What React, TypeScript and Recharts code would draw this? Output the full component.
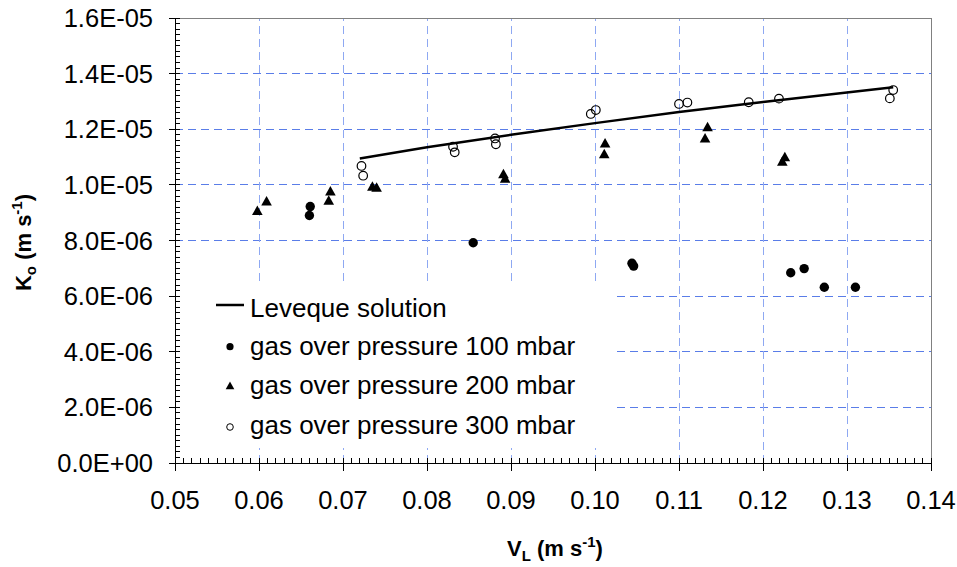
import React from "react"
import {
  ScatterChart,
  Scatter,
  XAxis,
  YAxis,
  Legend,
  ReferenceLine,
  Label,
} from "recharts"

const FONT = "Arial, 'Liberation Sans', sans-serif"

// axis ticks
const xMajorTicks = [0.05, 0.06, 0.07, 0.08, 0.09, 0.1, 0.11, 0.12, 0.13, 0.14]
const yMajorTicks = [0, 2e-6, 4e-6, 6e-6, 8e-6, 1e-5, 1.2e-5, 1.4e-5, 1.6e-5]
const MINOR_STEPS = 10

// Leveque solution curve
const levequeSolution = [
  { x: 0.072, y: 1.095e-5 },
  { x: 0.08, y: 1.135e-5 },
  { x: 0.09, y: 1.18e-5 },
  { x: 0.1, y: 1.222e-5 },
  { x: 0.11, y: 1.262e-5 },
  { x: 0.12, y: 1.298e-5 },
  { x: 0.1355, y: 1.351e-5 },
]

// measurements, gas over pressure 100 mbar
const gas100 = [
  { x: 0.0661, y: 9.22e-6 },
  { x: 0.066, y: 8.9e-6 },
  { x: 0.0855, y: 7.92e-6 },
  { x: 0.1044, y: 7.18e-6 },
  { x: 0.1046, y: 7.08e-6 },
  { x: 0.1233, y: 6.84e-6 },
  { x: 0.1249, y: 6.99e-6 },
  { x: 0.1273, y: 6.32e-6 },
  { x: 0.131, y: 6.32e-6 },
]

// 200 mbar
const gas200 = [
  { x: 0.0598, y: 9.06e-6 },
  { x: 0.0609, y: 9.4e-6 },
  { x: 0.0685, y: 9.76e-6 },
  { x: 0.0683, y: 9.43e-6 },
  { x: 0.0735, y: 9.93e-6 },
  { x: 0.074, y: 9.9e-6 },
  { x: 0.0891, y: 1.038e-5 },
  { x: 0.0893, y: 1.022e-5 },
  { x: 0.1012, y: 1.149e-5 },
  { x: 0.1011, y: 1.11e-5 },
  { x: 0.1134, y: 1.207e-5 },
  { x: 0.1131, y: 1.167e-5 },
  { x: 0.1226, y: 1.099e-5 },
  { x: 0.1223, y: 1.083e-5 },
]

// 300 mbar
const gas300 = [
  { x: 0.0722, y: 1.068e-5 },
  { x: 0.0724, y: 1.033e-5 },
  { x: 0.0831, y: 1.137e-5 },
  { x: 0.0833, y: 1.117e-5 },
  { x: 0.0881, y: 1.167e-5 },
  { x: 0.0882, y: 1.146e-5 },
  { x: 0.0995, y: 1.255e-5 },
  { x: 0.1001, y: 1.269e-5 },
  { x: 0.11, y: 1.291e-5 },
  { x: 0.111, y: 1.296e-5 },
  { x: 0.1183, y: 1.297e-5 },
  { x: 0.1219, y: 1.31e-5 },
  { x: 0.1355, y: 1.341e-5 },
  { x: 0.1351, y: 1.311e-5 },
]

const seriesNames = [
  "Leveque solution",
  "gas over pressure 100 mbar",
  "gas over pressure 200 mbar",
  "gas over pressure 300 mbar",
]

const withMinors = (majors: number[]) => {
  const out: number[] = []
  for (let i = 0; i < majors.length - 1; i++) {
    for (let k = 0; k < MINOR_STEPS; k++) {
      out.push(Number((majors[i] + ((majors[i + 1] - majors[i]) * k) / MINOR_STEPS).toPrecision(8)))
    }
  }
  out.push(majors[majors.length - 1])
  return out
}

const xTicks = withMinors(xMajorTicks)
const yTicks = withMinors(yMajorTicks)

const isMajor = (v: number, majors: number[]) => majors.some((m) => Math.abs(m - v) < 1e-12)

const sci = (v: number) => {
  if (v === 0) return "0.0E+00"
  const e = Math.floor(Math.log10(Math.abs(v)) + 1e-9)
  const m = v / Math.pow(10, e)
  return `${m.toFixed(1)}E${e < 0 ? "-" : "+"}${String(Math.abs(e)).padStart(2, "0")}`
}

const XTick = (props: any) => {
  const { x, y, payload } = props
  const major = isMajor(payload.value, xMajorTicks)
  return (
    <g>
      <line x1={x} x2={x} y1={y - 5} y2={major ? y + 8 : y} stroke="#000" shapeRendering="crispEdges" />
      {major && (
        <text x={x} y={y + 46} textAnchor="middle" fontSize={25.5} fontFamily={FONT} fill="#000">
          {payload.value.toFixed(2)}
        </text>
      )}
    </g>
  )
}

const YTick = (props: any) => {
  const { x, y, payload } = props
  const major = isMajor(payload.value, yMajorTicks)
  return (
    <g>
      <line x1={major ? x - 6 : x} x2={x + 5} y1={y} y2={y} stroke="#000" shapeRendering="crispEdges" />
      {major && (
        <text x={x - 22} y={y + 9} textAnchor="end" fontSize={25.5} fontFamily={FONT} fill="#000">
          {sci(payload.value)}
        </text>
      )}
    </g>
  )
}

const XTitle = ({ viewBox }: any) => (
  <text
    x={viewBox.x + viewBox.width / 2 + 2}
    y={viewBox.y + 93}
    textAnchor="middle"
    fontSize={22}
    fontWeight="bold"
    fontFamily={FONT}
    fill="#000"
  >
    V
    <tspan fontSize={15} dy={5}>L</tspan>
    <tspan dy={-5}> (m s</tspan>
    <tspan fontSize={15} dy={-9}>-1</tspan>
    <tspan dy={9}>)</tspan>
  </text>
)

const YTitle = ({ viewBox }: any) => {
  const cx = 31
  const cy = viewBox.y + viewBox.height / 2 + 2
  return (
    <text
      x={cx}
      y={cy}
      transform={`rotate(-90 ${cx} ${cy})`}
      textAnchor="middle"
      fontSize={22}
      fontWeight="bold"
      fontFamily={FONT}
      fill="#000"
    >
      K
      <tspan fontSize={15} dy={5}>o</tspan>
      <tspan dy={-5}> (m s</tspan>
      <tspan fontSize={15} dy={-9}>-1</tspan>
      <tspan dy={9}>)</tspan>
    </text>
  )
}

const FilledDot = (props: any) => <circle cx={props.cx} cy={props.cy} r={4.7} fill="#000" />
const OpenDot = (props: any) => (
  <circle cx={props.cx} cy={props.cy} r={4.3} fill="none" stroke="#000" strokeWidth={1.2} />
)
const Triangle = (props: any) => {
  const { cx, cy } = props
  return <polygon points={`${cx},${cy - 5.5} ${cx + 5.3},${cy + 4} ${cx - 5.3},${cy + 4}`} fill="#000" />
}
const NoDot = () => <g />

const legendMarker = (name: string, cx: number, cy: number) => {
  if (name === seriesNames[0]) return <line x1={cx - 14} x2={cx + 14} y1={cy} y2={cy} stroke="#000" strokeWidth={2.5} />
  if (name === seriesNames[1]) return <circle cx={cx} cy={cy} r={3.6} fill="#000" />
  if (name === seriesNames[2])
    return <polygon points={`${cx},${cy - 4.5} ${cx + 4.3},${cy + 3.2} ${cx - 4.3},${cy + 3.2}`} fill="#000" />
  return <circle cx={cx} cy={cy} r={3.3} fill="none" stroke="#000" strokeWidth={1} />
}

const legendMarkerY = [20, 61.7, 101, 142]
const legendBaseline = [31.7, 70, 109, 149]

const LegendBox = ({ payload }: any) => (
  <svg width={433} height={163} style={{ display: "block" }}>
    {(payload || []).map((entry: any, i: number) => (
      <g key={entry.value}>
        {legendMarker(entry.value, 50, legendMarkerY[i])}
        <text x={70} y={legendBaseline[i]} fontSize={26} fontFamily={FONT} fill="#000">
          {entry.value}
        </text>
      </g>
    ))}
  </svg>
)

const gridH = yMajorTicks.slice(1, -1)
const gridV = xMajorTicks.slice(1, -1)

export default function App() {
  return (
    <div style={{ position: "absolute", left: 0, top: 0, background: "#fff" }}>
      <ScatterChart width={957} height={567} margin={{ top: 18, right: 26, left: 0, bottom: 0 }}>
        <XAxis
          type="number"
          dataKey="x"
          domain={[0.05, 0.14]}
          ticks={xTicks}
          interval={0}
          tick={<XTick />}
          tickLine={false}
          tickSize={0}
          tickMargin={0}
          height={104}
          axisLine={{ stroke: "#000", shapeRendering: "crispEdges" }}
          allowDataOverflow
        >
          <Label content={<XTitle />} />
        </XAxis>
        <YAxis
          type="number"
          dataKey="y"
          domain={[0, 1.6e-5]}
          ticks={yTicks}
          interval={0}
          tick={<YTick />}
          tickLine={false}
          tickSize={0}
          tickMargin={0}
          width={175}
          axisLine={{ stroke: "#000", shapeRendering: "crispEdges" }}
          allowDataOverflow
        >
          <Label content={<YTitle />} />
        </YAxis>
        {gridH.map((v) => (
          <ReferenceLine key={`h${v}`} y={v} stroke="#5a7de8" strokeDasharray="8 5" shapeRendering="crispEdges" />
        ))}
        {gridV.map((v) => (
          <ReferenceLine key={`v${v}`} x={v} stroke="#8ea8f2" strokeDasharray="8 5" shapeRendering="crispEdges" />
        ))}
        <ReferenceLine y={1.6e-5} stroke="#808080" shapeRendering="crispEdges" />
        <ReferenceLine x={0.14} stroke="#808080" shapeRendering="crispEdges" />
        <Legend
          layout="vertical"
          align="center"
          verticalAlign="middle"
          content={<LegendBox />}
          wrapperStyle={{ left: 180, top: 285, width: 433, height: 163, background: "#fff" }}
        />
        <Scatter
          name={seriesNames[0]}
          data={levequeSolution}
          line={{ stroke: "#000", strokeWidth: 2.5 }}
          shape={<NoDot />}
          isAnimationActive={false}
        />
        <Scatter name={seriesNames[1]} data={gas100} shape={<FilledDot />} isAnimationActive={false} />
        <Scatter name={seriesNames[2]} data={gas200} shape={<Triangle />} isAnimationActive={false} />
        <Scatter name={seriesNames[3]} data={gas300} shape={<OpenDot />} isAnimationActive={false} />
      </ScatterChart>
    </div>
  )
}
